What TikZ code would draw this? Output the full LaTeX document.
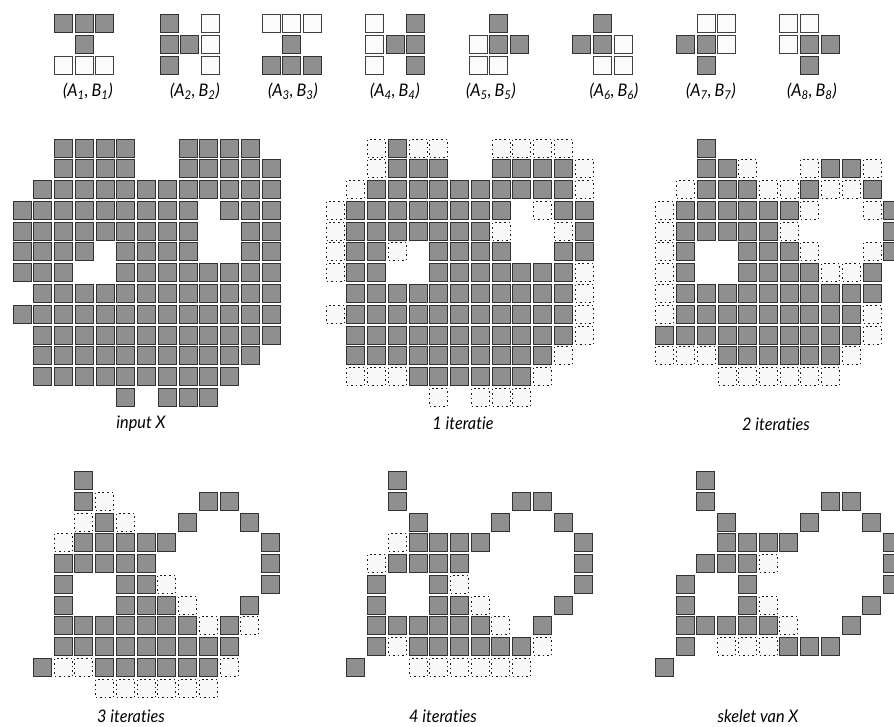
\documentclass[tikz,border=0pt]{standalone}
\usepackage{fontspec}
\setmainfont{Lato}[Ligatures=CommonOff,FakeStretch=0.94]
\newcount\gc
\def\gscan#1{\ifx#1\relax\else\gcell#1\advance\gc by 1 \expandafter\gscan\fi}
\def\gplace#1{\path[#1] ({round(\gxo+\the\gc*\gpx)+0.5},{round(\gyo+\r*\gpy)+0.5}) rectangle ++(18,18);}
\def\gcell#1{%
  \if#1X\gplace{solidcell}\fi
  \if#1d\gplace{dotcell}\fi
  \if#1o\gplace{opencell}\fi
}
\newcommand\gpanel[3]{\def\gxo{#1}\def\gyo{#2}%
  \foreach \s [count=\r from 0] in {#3}{\gc=0 \expandafter\gscan\s\relax}}
\definecolor{halftone}{gray}{0.56}
\tikzset{
  solidcell/.style={fill=halftone,draw=black!80,line width=0.85pt},
  dotcell/.style={fill=gray!5,draw=black!90,line width=0.8pt,dash pattern=on 1.2pt off 2.2pt},
  opencell/.style={fill=gray!3,draw=black!75,line width=0.8pt},
  lab/.style={font=\itshape\fontsize{13}{15}\selectfont,inner sep=0pt,anchor=base},
}
\newcommand\ab[1]{(\textit{A}\textsubscript{#1},\,\textit{B}\textsubscript{#1})}
\def\gpx{20.74}\def\gpy{20.76}
\begin{document}
\begin{tikzpicture}[x=0.75pt,y=-0.75pt]
\clip (0,0) rectangle (894,726);
% structuring pairs
\gpanel{54}{14}{XXX,-X-,ooo}
\gpanel{159.7}{14}{X-o,XXo,X-o}
\gpanel{261.7}{14}{ooo,-X-,XXX}
\gpanel{365}{14}{o-X,oXX,o-X}
\gpanel{468.7}{14}{-X-,oXX,oo-}
\gpanel{572.3}{14}{-X-,XXo,-oo}
\gpanel{676}{14}{-oo,XXo,-X-}
\gpanel{779.3}{14}{oo-,oXX,-X-}
\node[lab] (p1) at (88,96) {\ab{1}};
\node[lab] (p2) at (195,96) {\ab{2}};
\node[lab] (p3) at (293,96) {\ab{3}};
\node[lab] (p4) at (395,96) {\ab{4}};
\node[lab] (p5) at (491,96) {\ab{5}};
\node[lab] (p6) at (614,96) {\ab{6}};
\node[lab] (p7) at (711,96) {\ab{7}};
\node[lab] (p8) at (812,96) {\ab{8}};
% input X
\gpanel{12.7}{138.7}{
--XXXX--XXXX-,
--XXXX--XXXXX,
-XXXXXXXXXXXX,
XXXXXXXXX-XXX,
XXXXXXXXX--XX,
XXXX-XXXX--XX,
XXX--XXXXXXXX,
-XXXXXXXXXXXX,
XXXXXXXXXXXXX,
-XXXXXXXXXXXX,
-XXXXXXXXXXX-,
-XXXXXXXXXX--,
-----X-XXX---}
% 1 iteratie
\gpanel{325.7}{138.7}{
--dXdd--dddd-,
--dXXX--XXXXd,
-dXXXXXXXXXXd,
dXXXXXXXX-dXX,
dXXXXXXXd--dX,
dXXd-XXXX--XX,
dXX--XXXXXXXd,
-XXXXXXXXXXXd,
dXXXXXXXXXXXd,
-XXXXXXXXXXXd,
-XXXXXXXXXXd-,
-dddXXXXXXd--,
-----d-ddd---}
% 2 iteraties
\gpanel{655.3}{138.7}{
--X----------,
--XXd--dXXd--,
-dXXXddXddX--,
dXXXXXXd--dX-,
dXXXXXd----X-,
dX--XXXd--dX-,
dX--XXXXddX--,
dXXXXXXXXXX--,
dXXXXXXXXXd--,
XXXXXXXXXXd--,
dddXXXXXXd---,
---dddddd----}
% 3 iteraties
\gpanel{33}{471}{
--X----------,
--Xd----XX---,
--dXd--X--X--,
-dXXXXX----X-,
-XXXXX-----X-,
-X--XXd----X-,
-X--XXXd--X--,
-XXXXXXXdXd--,
-XXXXXXXXX---,
XddXXXXXXd---,
---dddddd----}
% 4 iteraties
\gpanel{346.3}{471}{
--X----------,
--X-----XX---,
---X---X--X--,
--dXXXX----X-,
-dXXXX-----X-,
-X--Xd-----X-,
-X--XXd---X--,
-XXXXXXd-X---,
-XdXXXXXXd---,
X--dddddd----}
% skelet
\gpanel{655}{471}{
--X----------,
--X-----XX---,
---X---X--X--,
---XXXX----X-,
--XXXd-----X-,
-X--X------X-,
-X--Xd----X--,
-XXXXXd--X---,
-X-dddXXX----,
X------------}
\node[lab] (l1) at (141,428) {input X};
\node[lab] (l2) at (463,429) {1 iteratie};
\node[lab] (l3) at (776,430) {2 iteraties};
\node[lab] (l4) at (131,722) {3 iteraties};
\node[lab] (l5) at (443,722) {4 iteraties};
\node[lab] (l6) at (758,722) {skelet van X};
\end{tikzpicture}
\end{document}
